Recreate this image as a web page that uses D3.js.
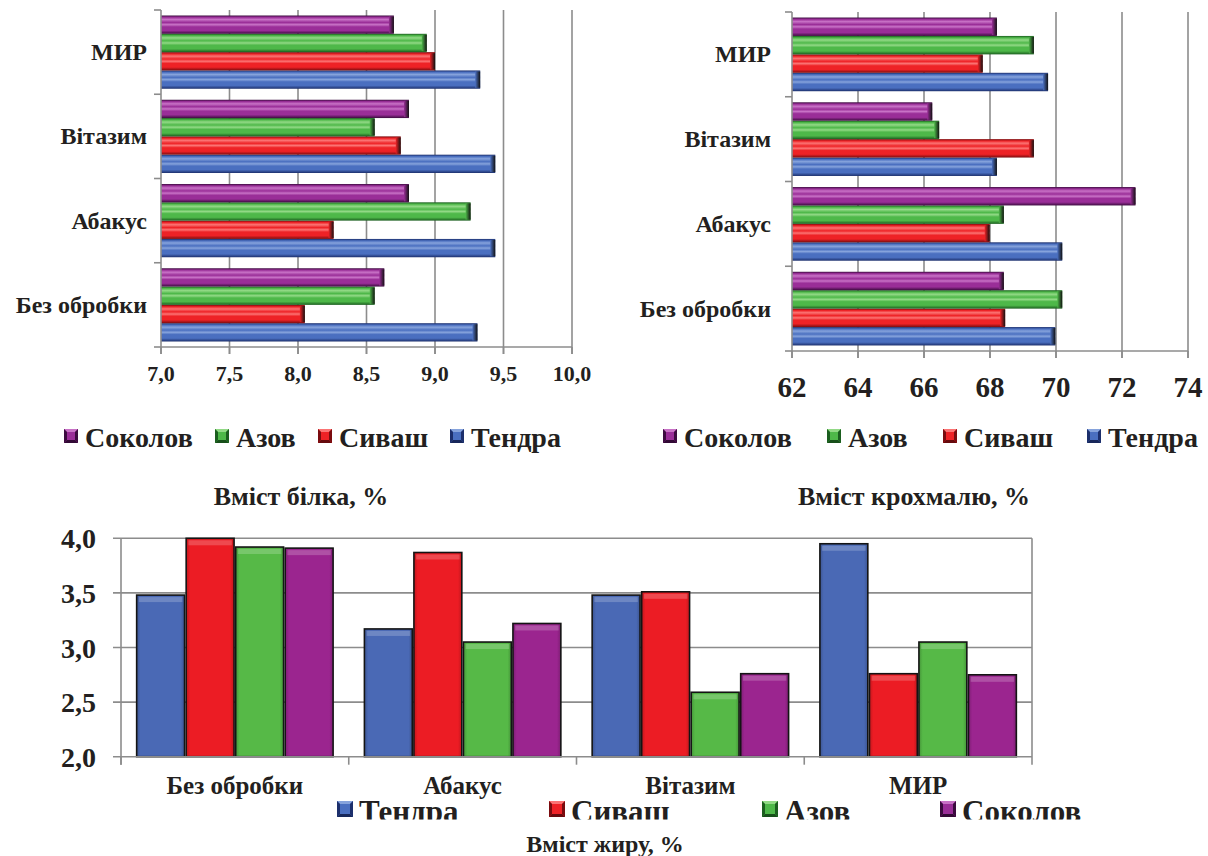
<!DOCTYPE html>
<html>
<head>
<meta charset="utf-8">
<script src="https://cdn.jsdelivr.net/npm/d3@7"></script>
</head>
<body style="margin:0">
<svg id="canvas" width="1208" height="856" font-family="Liberation Serif" font-weight="bold"></svg>
<script>
// categories and series
var categories = ["Без обробки", "Абакус", "Вітазим", "МИР"];
var series = ["Тендра", "Сиваш", "Азов", "Соколов"];

// protein content, %
var proteinTendra  = [9.31, 9.44, 9.44, 9.33];
var proteinSyvash  = [8.05, 8.26, 8.75, 9.00];
var proteinAzov    = [8.56, 9.26, 8.56, 8.94];
var proteinSokolov = [8.63, 8.81, 8.81, 8.70];
var proteinTicks = [7.0, 7.5, 8.0, 8.5, 9.0, 9.5, 10.0];

// starch content, %
var starchTendra  = [69.98, 70.19, 68.21, 69.76];
var starchSyvash  = [68.46, 67.99, 69.33, 67.78];
var starchAzov    = [70.19, 68.42, 66.46, 69.33];
var starchSokolov = [68.42, 72.41, 66.25, 68.21];
var starchTicks = [62, 64, 66, 68, 70, 72, 74];

// fat content, %
var fatTendra  = [3.48, 3.17, 3.48, 3.95];
var fatSyvash  = [4.00, 3.87, 3.51, 2.76];
var fatAzov    = [3.92, 3.05, 2.59, 3.05];
var fatSokolov = [3.91, 3.22, 2.76, 2.75];
var fatTicks = [2.0, 2.5, 3.0, 3.5, 4.0];

var svg = d3.select("#canvas");
var defs = svg.append("defs");

// colours per series: main, light, dark
var pal = {
  "Тендра":  {main: "#4a6fc0", light: "#86a3dc", dark: "#1c2f6c"},
  "Сиваш":   {main: "#ee2226", light: "#fb7474", dark: "#7a0c0f"},
  "Азов":    {main: "#4eb849", light: "#92d986", dark: "#1b5e1f"},
  "Соколов": {main: "#9a2e98", light: "#c872c6", dark: "#3c0b3f"}
};
var flat = {"Тендра": "#4a69b5", "Сиваш": "#ec1c24", "Азов": "#56b947", "Соколов": "#9b258f"};

var comma = function(f) { return function(d) { return d3.format(f)(d).replace(".", ","); }; };

//all text: bold Times-like serif
function txt(sel, size) {
  return sel.attr("font-family", "Liberation Serif")
    .style("font-family", "'Liberation Serif'")
    .style("font-weight", "bold")
    .style("font-size", size).style("fill", "#231f20");
}

series.forEach(function(s, i) {
  var c = pal[s];
  // vertical gradient for horizontal bars (bevel look)
  var g = defs.append("linearGradient").attr("id", "hg" + i)
    .attr("x1", 0).attr("y1", 0).attr("x2", 0).attr("y2", 1);
  [[0, c.dark], [0.1, c.main], [0.22, c.light], [0.38, c.main], [0.5, c.light], [0.62, c.main], [0.82, c.main], [1, c.dark]]
    .forEach(function(st) { g.append("stop").attr("offset", st[0]).attr("stop-color", st[1]); });
  // end cap gradient
  var e = defs.append("linearGradient").attr("id", "he" + i)
    .attr("x1", 0).attr("y1", 0).attr("x2", 1).attr("y2", 0);
  e.append("stop").attr("offset", 0).attr("stop-color", c.main);
  e.append("stop").attr("offset", 1).attr("stop-color", "#111");
  // horizontal gradient for vertical bars
  var v = defs.append("linearGradient").attr("id", "vg" + i)
    .attr("x1", 0).attr("y1", 0).attr("x2", 1).attr("y2", 0);
  [[0, d3.color(flat[s]).darker(0.6)], [0.08, flat[s]], [0.92, flat[s]], [1, d3.color(flat[s]).darker(0.6)]]
    .forEach(function(st) { v.append("stop").attr("offset", st[0]).attr("stop-color", st[1]); });
});

function hChart(opt) {
  var g = svg.append("g");
  var x = d3.scaleLinear().domain(opt.domain).range([opt.x0, opt.x1]);
  var y = d3.scaleBand().domain(categories).range([opt.y1, opt.y0]).padding(0);
  var yIn = d3.scaleBand().domain(series.slice().reverse()).range([0, y.bandwidth()])
    .paddingInner(0).paddingOuter(0.3);

  // gridlines
  g.selectAll("line.grid").data(opt.ticks.slice(1)).enter().append("line")
    .attr("x1", function(d) { return x(d); }).attr("x2", function(d) { return x(d); })
    .attr("y1", opt.y0).attr("y2", opt.y1 + 7)
    .attr("stroke", "#8c8c8c").attr("stroke-width", 1.6);

  // bars
  series.forEach(function(s, i) {
    var vals = opt.values[i];
    var bg = g.selectAll("g.bar" + i).data(categories).enter().append("g");
    bg.append("rect")
      .attr("x", x(opt.domain[0]))
      .attr("y", function(d) { return y(d) + yIn(s); })
      .attr("width", function(d, j) { return x(vals[j]) - x(opt.domain[0]); })
      .attr("height", yIn.bandwidth())
      .attr("fill", "url(#hg" + i + ")");
    bg.append("rect")
      .attr("x", function(d, j) { return x(vals[j]) - 5; })
      .attr("y", function(d) { return y(d) + yIn(s) + 1; })
      .attr("width", 5)
      .attr("height", yIn.bandwidth() - 2)
      .attr("fill", "url(#he" + i + ")");
  });

  // axes lines
  g.append("line").attr("x1", opt.x0).attr("x2", opt.x0).attr("y1", opt.y0).attr("y2", opt.y1 + 7)
    .attr("stroke", "#8c8c8c").attr("stroke-width", 1.6);
  g.append("line").attr("x1", opt.x0).attr("x2", opt.x1).attr("y1", opt.y1).attr("y2", opt.y1)
    .attr("stroke", "#8c8c8c").attr("stroke-width", 1.6);
  // category ticks
  var edges = categories.map(function(c) { return y(c); }).concat([opt.y1]);
  g.selectAll("line.ct").data(edges).enter().append("line")
    .attr("x1", opt.x0 - 7).attr("x2", opt.x0)
    .attr("y1", function(d) { return d; }).attr("y2", function(d) { return d; })
    .attr("stroke", "#8c8c8c").attr("stroke-width", 1.6);
  // value ticks
  g.selectAll("line.vt").data(opt.ticks).enter().append("line")
    .attr("x1", function(d) { return x(d); }).attr("x2", function(d) { return x(d); })
    .attr("y1", opt.y1).attr("y2", opt.y1 + 7)
    .attr("stroke", "#8c8c8c").attr("stroke-width", 1.6);

  // labels
  txt(g.selectAll("text.cat").data(categories).enter().append("text"), "24px")
    .attr("x", opt.labelX)
    .attr("y", function(d) { return y(d) + y.bandwidth() / 2 + 8; })
    .attr("text-anchor", "end")
    .text(function(d) { return d; });
  txt(g.selectAll("text.tick").data(opt.ticks).enter().append("text"), opt.tickSize)
    .attr("x", function(d) { return x(d); })
    .attr("y", opt.tickY)
    .attr("text-anchor", "middle")
    .text(opt.fmt);

  // legend (reverse order)
  var leg = series.slice().reverse();
  leg.forEach(function(s, k) {
    var i = series.indexOf(s);
    marker(opt.legX[k], opt.legY - 15, 14, i);
    txt(g.append("text"), "28px").attr("x", opt.legX[k] + 21).attr("y", opt.legY + 3).text(s);
  });
  txt(g.append("text"), "26px").attr("x", opt.titleX).attr("y", opt.titleY)
    .attr("text-anchor", "middle").text(opt.title);
}

function marker(mx, my, size, i) {
  var c = pal[series[i]];
  var m = svg.append("g");
  m.append("rect").attr("x", mx).attr("y", my).attr("width", size).attr("height", size).attr("fill", c.main);
  var b = 3;
  m.append("polygon").attr("points", [[mx, my], [mx + size, my], [mx + size - b, my + b], [mx + b, my + b]].join(" ")).attr("fill", c.light);
  m.append("polygon").attr("points", [[mx, my], [mx + b, my + b], [mx + b, my + size - b], [mx, my + size]].join(" ")).attr("fill", c.dark);
  m.append("polygon").attr("points", [[mx + size, my], [mx + size, my + size], [mx + size - b, my + size - b], [mx + size - b, my + b]].join(" ")).attr("fill", c.dark);
  m.append("polygon").attr("points", [[mx, my + size], [mx + size, my + size], [mx + size - b, my + size - b], [mx + b, my + size - b]].join(" ")).attr("fill", d3.color(c.dark).darker(0.5));
}

hChart({
  domain: [7, 10], ticks: proteinTicks, fmt: comma(".1f"),
  values: [proteinTendra, proteinSyvash, proteinAzov, proteinSokolov],
  x0: 161, x1: 572, y0: 10, y1: 347, labelX: 147,
  tickY: 381, tickSize: "22px",
  legX: [64, 215, 318, 450], legY: 444,
  title: "Вміст білка, %", titleX: 301, titleY: 505
});

hChart({
  domain: [62, 74], ticks: starchTicks, fmt: comma("d"),
  values: [starchTendra, starchSyvash, starchAzov, starchSokolov],
  x0: 792, x1: 1188, y0: 12, y1: 351, labelX: 771,
  tickY: 397, tickSize: "29px",
  legX: [663, 827, 943, 1087], legY: 444,
  title: "Вміст крохмалю, %", titleX: 914, titleY: 505
});

// bottom chart: fat content
(function() {
  var g = svg.append("g");
  var x = d3.scaleBand().domain(categories).range([121, 1032]).padding(0);
  var xIn = d3.scaleBand().domain(series).range([0, x.bandwidth()]).paddingInner(0).paddingOuter(0.3);
  var y = d3.scaleLinear().domain([2, 4]).range([756.7, 538.3]);
  var values = [fatTendra, fatSyvash, fatAzov, fatSokolov];

  g.selectAll("line.grid").data(fatTicks.slice(1)).enter().append("line")
    .attr("x1", 113).attr("x2", 1032)
    .attr("y1", function(d) { return y(d); }).attr("y2", function(d) { return y(d); })
    .attr("stroke", "#8c8c8c").attr("stroke-width", 1.6);
  g.append("line").attr("x1", 1032).attr("x2", 1032).attr("y1", y(4)).attr("y2", y(2) + 8)
    .attr("stroke", "#8c8c8c").attr("stroke-width", 1.6);

  series.forEach(function(s, i) {
    var vals = values[i];
    var bg = g.selectAll("g.b" + i).data(categories).enter().append("g");
    bg.append("rect")
      .attr("x", function(d) { return x(d) + xIn(s) + 0.8; })
      .attr("y", function(d, j) { return y(vals[j]); })
      .attr("width", xIn.bandwidth() - 1.6)
      .attr("height", function(d, j) { return y(2) - y(vals[j]); })
      .attr("fill", "url(#vg" + i + ")")
      .attr("stroke", "#141414").attr("stroke-width", 1.6);
    // top bevel strip
    bg.append("rect")
      .attr("x", function(d) { return x(d) + xIn(s) + 3; })
      .attr("y", function(d, j) { return y(vals[j]) + 2; })
      .attr("width", xIn.bandwidth() - 6)
      .attr("height", 5)
      .attr("fill", "#fff").attr("opacity", 0.2);
  });

  g.append("line").attr("x1", 121).attr("x2", 121).attr("y1", y(4)).attr("y2", y(2) + 8)
    .attr("stroke", "#8c8c8c").attr("stroke-width", 1.6);
  g.append("line").attr("x1", 113).attr("x2", 1032).attr("y1", y(2)).attr("y2", y(2))
    .attr("stroke", "#8c8c8c").attr("stroke-width", 1.6);
  g.selectAll("line.ct").data(categories.map(function(c) { return x(c); })).enter().append("line")
    .attr("x1", function(d) { return d; }).attr("x2", function(d) { return d; })
    .attr("y1", y(2)).attr("y2", y(2) + 8)
    .attr("stroke", "#8c8c8c").attr("stroke-width", 1.6);

  txt(g.selectAll("text.yt").data(fatTicks).enter().append("text"), "28px")
    .attr("x", 96).attr("y", function(d) { return y(d) + 10; })
    .attr("text-anchor", "end")
    .text(comma(".1f"));
  txt(g.selectAll("text.xt").data(categories).enter().append("text"), "25px")
    .attr("x", function(d) { return x(d) + x.bandwidth() / 2; }).attr("y", 794)
    .attr("text-anchor", "middle")
    .text(function(d) { return d; });

  // legend, clipped at the bottom like the original
  defs.append("clipPath").attr("id", "legclip").append("rect")
    .attr("x", 0).attr("y", 799).attr("width", 1208).attr("height", 20.5);
  var legX = [337, 549, 762, 940];
  series.forEach(function(s, i) {
    marker(legX[i], 801, 16, i);
    txt(g.append("text"), "31px").attr("x", legX[i] + 22).attr("y", 822)
      .attr("clip-path", "url(#legclip)")
      .text(s);
  });
  txt(g.append("text"), "24px").attr("x", 605).attr("y", 852).attr("text-anchor", "middle")
    .text("Вміст жиру, %");
})();
</script>
</body>
</html>
